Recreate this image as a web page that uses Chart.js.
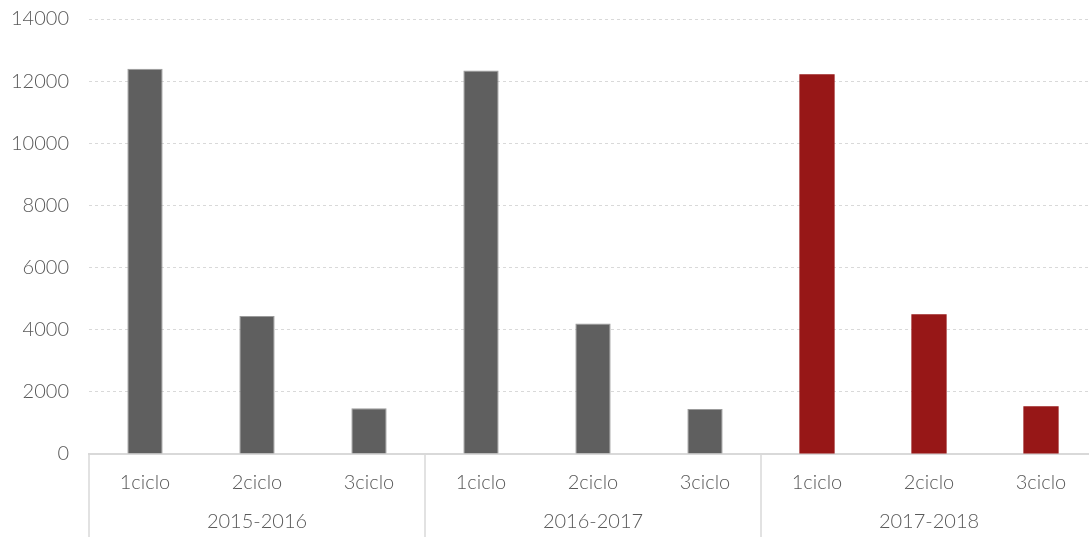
<!DOCTYPE html>
<html>
<head>
<meta charset="utf-8">
<script src="https://cdn.jsdelivr.net/npm/chart.js@4/dist/chart.umd.min.js"></script>
<style>
  html, body { margin: 0; padding: 0; background: #ffffff; overflow: hidden; }
  #wrap { width: 1097px; height: 537px; position: relative; }
</style>
</head>
<body>
<div id="wrap"><canvas id="c"></canvas></div>
<script>
const cycles = ['1ciclo', '2ciclo', '3ciclo', '1ciclo', '2ciclo', '3ciclo', '1ciclo', '2ciclo', '3ciclo'];
const years = ['2015-2016', '2016-2017', '2017-2018'];
const values = [12400, 4440, 1470, 12340, 4200, 1450, 12220, 4500, 1540];
const yTicks = { min: 0, max: 14000, step: 2000 };

const GRAY = '#5f5f5f';
const RED = '#971717';
const barColors = values.map((v, i) => (i >= 6 ? RED : GRAY));
const barBorders = values.map((v, i) => (i >= 6 ? RED : '#9b9b9b'));
const barBorderW = values.map((v, i) => (i >= 6 ? 0 : 1));

const FONT = 'Lato, "Open Sans", sans-serif';

const separators = {
  id: 'separators',
  afterDraw(chart) {
    const x = chart.scales.x;
    const ctx = chart.ctx;
    const n = cycles.length;
    const step = (x.getPixelForValue(n - 1) - x.getPixelForValue(0)) / (n - 1);
    ctx.save();
    ctx.strokeStyle = '#d9d9d9';
    ctx.lineWidth = 1.5;
    for (let g = 0; g <= years.length; g++) {
      const px = x.getPixelForValue(0) - step / 2 + g * 3 * step;
      ctx.beginPath();
      ctx.moveTo(px, chart.chartArea.bottom);
      ctx.lineTo(px, chart.height);
      ctx.stroke();
    }
    ctx.restore();
  }
};

new Chart(document.getElementById('c'), {
  type: 'bar',
  data: {
    labels: cycles,
    datasets: [{
      data: values,
      backgroundColor: barColors,
      borderColor: barBorders,
      borderWidth: barBorderW,
      categoryPercentage: 1,
      barPercentage: 0.315
    }]
  },
  options: {
    responsive: true,
    maintainAspectRatio: false,
    animation: false,
    devicePixelRatio: 1,
    layout: { padding: { top: 19, right: 0, bottom: 0, left: 0 } },
    plugins: { legend: { display: false }, tooltip: { enabled: false } },
    scales: {
      y: {
        min: yTicks.min,
        max: yTicks.max,
        ticks: {
          stepSize: yTicks.step,
          padding: 20,
          color: '#595959',
          font: { family: FONT, size: 20, weight: '300' },
          callback: (v) => String(v)
        },
        grid: { color: '#d9d9d9', lineWidth: 1, drawTicks: false },
        border: { display: false, dash: [3, 3] },
        afterFit(scale) { scale.width = 89; scale.paddingTop = 0; scale.paddingBottom = 0; }
      },
      x: {
        grid: { display: false, drawTicks: false },
        border: { display: true, color: '#d9d9d9', width: 2 },
        ticks: {
          padding: 17,
          color: '#595959',
          font: { family: FONT, size: 20, weight: '300' },
          maxRotation: 0,
          autoSkip: false
        },
        afterFit(scale) { scale.height = 40; }
      },
      x2: {
        type: 'category',
        position: 'bottom',
        labels: years,
        offset: true,
        grid: { display: false, drawTicks: false },
        border: { display: false },
        ticks: {
          padding: 16,
          color: '#595959',
          font: { family: FONT, size: 20, weight: '300' },
          maxRotation: 0,
          autoSkip: false
        },
        afterFit(scale) { scale.height = 43; }
      }
    }
  },
  plugins: [separators]
});
</script>
</body>
</html>
